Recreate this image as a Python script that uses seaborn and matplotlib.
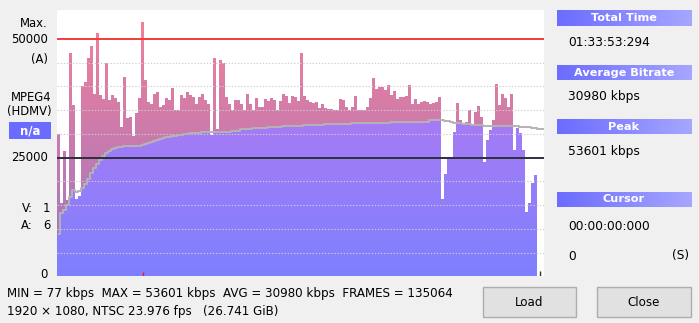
import numpy as np
import pandas as pd
import matplotlib
matplotlib.use("Agg")
import matplotlib.pyplot as plt
import seaborn as sns
from matplotlib.path import Path
from matplotlib.patches import Rectangle
from matplotlib.colors import LinearSegmentedColormap

# ---------------- data (kbps, one bar per time slice) ----------------
bitrate_kbps = [
    30000, 15500, 26500, 16000, 47000, 36000, 16400, 17000, 40000, 41000,
    46000, 48500, 38500, 51300, 38200, 37300, 44900, 37100, 38200, 37500,
    36800, 31500, 42000, 33300, 33500, 29500, 34500, 37500, 53601, 41300,
    36800, 36400, 38500, 38900, 35700, 36100, 37500, 37100, 39600, 35000,
    35000, 38200, 37500, 38900, 38200, 37800, 36400, 37800, 38500, 37100,
    36400, 29800, 46000, 31000, 45600, 45000, 37800, 36400, 35000, 37100,
    37100, 36400, 35000, 38500, 36400, 35000, 37500, 35700, 35700, 37300,
    37000, 37500, 37100, 35000, 37000, 38500, 38000, 36600, 38000, 37700,
    37000, 47000, 38000, 37100, 36800, 36600, 36800, 35400, 36400, 35400,
    35200, 35200, 35000, 35000, 37300, 37100, 35600, 35000, 35700, 38000,
    35000, 35000, 35000, 35700, 37500, 41700, 39500, 39800, 39900, 39200,
    40300, 38200, 39100, 37300, 37700, 37700, 38000, 40300, 36400, 37300,
    36400, 36800, 37000, 36800, 36400, 36600, 36800, 37800, 16400, 21500,
    25000, 25200, 30400, 36500, 33000, 31900, 32500, 35000, 31900, 34700,
    35900, 33500, 24000, 28700, 30800, 33000, 40600, 36100, 38500, 37500,
    35700, 38500, 26600, 31200, 30100, 26600, 13600, 15400, 19600, 21300,
]

running_avg_kbps = [
    9000, 13300, 14000, 15000, 16800, 18100, 17800, 18000, 18700, 19500,
    20500, 21700, 22800, 23600, 24500, 25300, 26000, 26500, 26800, 27000,
    27200, 27300, 27400, 27400, 27400, 27400, 27400, 27500, 27700, 27900,
    28100, 28350, 28550, 28800, 29000, 29150, 29300, 29450, 29550, 29650,
    29750, 29850, 29950, 30050, 30150, 30200, 30250, 30300, 30350, 30350,
    30350, 30350, 30400, 30400, 30400, 30400, 30400, 30400, 30680, 30680,
    30680, 30960, 30960, 30960, 30960, 31240, 31240, 31240, 31240, 31240,
    31520, 31520, 31520, 31520, 31520, 31730, 31730, 31730, 31730, 31730,
    31730, 31730, 31800, 31800, 31800, 31800, 31800, 31800, 31800, 32010,
    32010, 32010, 32010, 32010, 32010, 32010, 32010, 32010, 32250, 32250,
    32250, 32250, 32250, 32250, 32250, 32250, 32250, 32250, 32250, 32250,
    32250, 32570, 32570, 32570, 32570, 32570, 32570, 32570, 32570, 32570,
    32570, 32570, 32570, 32570, 32920, 32920, 32920, 32920, 32850, 32780,
    32650, 32500, 32400, 32360, 32300, 32150, 32080, 32000, 31950, 31870,
    31850, 31800, 31780, 31750, 31730, 31730, 31730, 31730, 31730, 31700,
    31700, 31680, 31660, 31600, 31550, 31520, 31450, 31380, 31300, 31170,
    31050, 30980, 30980,
]

max_level = 50000
mid_level = 25000
grid_levels = [5000, 10000, 15000, 20000, 30000, 35000, 40000, 45000]
y_top = 56210

left_labels = [("Max.", 23.5), ("50000", 39.5), ("(A)", 60.0),
               ("MPEG4", 97.5), ("(HDMV)", 112.0), ("25000", 157.7), ("0", 275.0)]
stats_line1 = "MIN = 77 kbps  MAX = 53601 kbps  AVG = 30980 kbps  FRAMES = 135064"
stats_line2 = "1920 \u00d7 1080, NTSC 23.976 fps   (26.741 GiB)"
panel_headers = ["Total Time", "Average Bitrate", "Peak", "Cursor"]
panel_values = ["01:33:53:294", "30980 kbps", "53601 kbps", "00:00:00:000"]

# ---------------- figure ----------------
W, H = 699, 323
fig = plt.figure(figsize=(W / 100, H / 100), dpi=100, facecolor="#f0f0f0")
plt.rcParams["font.family"] = ["DejaVu Sans"]
FS = 8.4
FS_BOTTOM = 8.6
FS_PANEL = 8.8
FS_HEAD = 8.1

top_px, zero_px = 9.5, 276.4
left_px, right_px = 57, 544
ax = fig.add_axes([left_px / W, (H - zero_px) / H,
                   (right_px - left_px) / W, (zero_px - top_px) / H])
ax.set_facecolor("white")

n = len(bitrate_kbps)
df = pd.DataFrame({
    "slot": np.arange(n),
    "bitrate": bitrate_kbps,
    "avg": running_avg_kbps[:n],
})
df["below"] = np.minimum(df["bitrate"], df["avg"])

sns.barplot(data=df, x="slot", y="bitrate", color="#d67aa6", width=1.0,
            saturation=1, linewidth=0, errorbar=None, orient="x", ax=ax, zorder=1)
sns.barplot(data=df, x="slot", y="below", color="#9c7df8", width=1.0,
            saturation=1, linewidth=0, errorbar=None, orient="x", ax=ax, zorder=1.1)

x_lo = -0.5
x_hi = x_lo + (right_px - left_px) / 3.0


def container_path(container):
    verts, codes = [], []
    for r in container:
        x0, y0, w, h = r.get_x(), r.get_y(), r.get_width(), r.get_height()
        verts += [(x0, y0), (x0 + w, y0), (x0 + w, y0 + h), (x0, y0 + h), (x0, y0)]
        codes += [Path.MOVETO, Path.LINETO, Path.LINETO, Path.LINETO, Path.CLOSEPOLY]
    return Path(verts, codes)


grad = np.linspace(0, 1, 256).reshape(-1, 1)
pink_cmap = LinearSegmentedColormap.from_list("pk", ["#9875c8", "#f88095"])
purple_cmap = LinearSegmentedColormap.from_list("pu", ["#7e80ff", "#c478ee"])
for cont, cmap, z in [(ax.containers[0], pink_cmap, 1.2), (ax.containers[1], purple_cmap, 1.3)]:
    im = ax.imshow(grad, extent=(x_lo, x_hi, 0, y_top), origin="lower",
                   aspect="auto", cmap=cmap, zorder=z, interpolation="bilinear")
    im.set_clip_path(container_path(cont), ax.transData)

ax.hlines(grid_levels, x_lo, x_hi, colors="#cfcfcf", linestyles=(0, (1.2, 1.6)),
          lw=0.8, zorder=2)

xs = np.arange(len(running_avg_kbps))
sns.lineplot(x=xs, y=running_avg_kbps, color="#b3b3b3", lw=1.4,
             drawstyle="steps-mid", ax=ax, zorder=2.5)

ax.axhline(max_level, color="#f23c3c", lw=1.4, zorder=3)
ax.axhline(mid_level, color="#2e2e3c", lw=1.4, zorder=3)

# peak marker and end marker at the bottom
peak_i = int(np.argmax(bitrate_kbps))
ax.vlines([peak_i], 0, 1000, colors="#ff1010", lw=1.0, zorder=4)
ax.vlines([n + 0.5], 0, 1200, colors="#303030", lw=1.0, zorder=4)

ax.set_xlim(x_lo, x_hi)
ax.set_ylim(0, y_top)
ax.set_xticks([])
ax.set_yticks([])
ax.set_xlabel("")
ax.set_ylabel("")
for s in ax.spines.values():
    s.set_visible(False)
leg = ax.get_legend()
if leg:
    leg.remove()

# ---------------- UI overlay in pixel coordinates ----------------
ui = fig.add_axes([0, 0, 1, 1], zorder=5)
ui.patch.set_alpha(0)
ui.axis("off")

for txt, y in left_labels:
    xr = 48 if txt not in ("MPEG4", "(HDMV)") else (51.3 if txt == "MPEG4" else 52)
    ui.text(xr, y, txt, ha="right", va="center", fontsize=FS, color="black")

ui.add_patch(Rectangle((9, 122), 42, 16.5, fc="#6b6bff", ec="none"))
ui.text(30, 130.5, "n/a", ha="center", va="center", fontsize=FS, color="white",
        fontweight="bold")
ui.text(22, 209, "V:", ha="left", va="center", fontsize=FS)
ui.text(50, 209, "1", ha="right", va="center", fontsize=FS)
ui.text(21, 225.7, "A:", ha="left", va="center", fontsize=FS)
ui.text(50.5, 225.7, "6", ha="right", va="center", fontsize=FS)

ui.text(7, 293.5, stats_line1, ha="left", va="center", fontsize=FS_BOTTOM)
ui.text(7, 312, stats_line2, ha="left", va="center", fontsize=FS_BOTTOM)

# buttons
for (bx, bw, label) in [(483, 93, "Load"), (597, 94, "Close")]:
    ui.add_patch(Rectangle((bx, 287), bw, 30, fc="#e1e1e1", ec="#adadad", lw=1))
    ui.text(bx + bw / 2, 302.5, label, ha="center", va="center", fontsize=FS_BOTTOM)

# right info panel
hgrad = np.linspace(0, 1, 64).reshape(1, -1)
hcmap = LinearSegmentedColormap.from_list("hd", ["#6c6cff", "#a6a6ff"])
header_y = [(10, 25.7), (65, 80), (119, 134), (191.7, 206.7)]
value_y = [43, 96.7, 151.7, 226.7]
for (y0, y1), head, val, vy in zip(header_y, panel_headers, panel_values, value_y):
    ui.imshow(hgrad, extent=(556.7, 691.7, y1, y0), aspect="auto", cmap=hcmap,
              interpolation="bilinear", zorder=1)
    ui.text(624, (y0 + y1) / 2, head, ha="center", va="center", fontsize=FS_HEAD,
            color="white", fontweight="bold", zorder=2)
    ui.text(568, vy, val, ha="left", va="center", fontsize=FS_PANEL, zorder=2)
ui.text(568, 256, "0", ha="left", va="center", fontsize=FS_PANEL)
ui.text(689, 256, "(S)", ha="right", va="center", fontsize=FS_PANEL)

ui.set_xlim(0, W)
ui.set_ylim(H, 0)

fig.savefig("out.png", dpi=100, facecolor=fig.get_facecolor())
